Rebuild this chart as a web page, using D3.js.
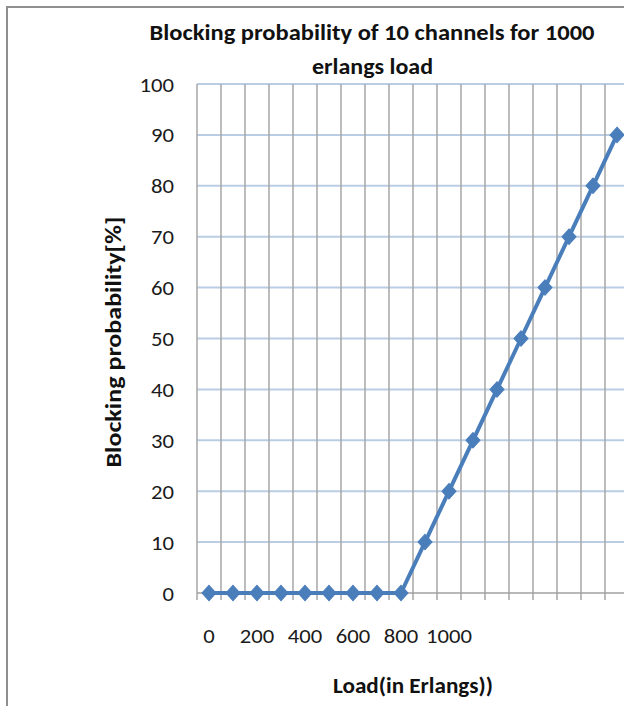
<!DOCTYPE html>
<html><head><meta charset="utf-8">
<script src="https://cdn.jsdelivr.net/npm/d3@7"></script>
<style>body{margin:0;background:#fff}svg{display:block}text{font-family:Carlito,Lato,"Open Sans",sans-serif}</style>
</head><body><svg id="c" width="624" height="706"></svg>
<script>
const categories = [0,100,200,300,400,500,600,700,800,900,1000,1100,1200,1300,1400,1500,1600,1700];
const tickLabels = ["0","","200","","400","","600","","800","","1000","","","","","","",""];
const blocking = [0,0,0,0,0,0,0,0,0,10,20,30,40,50,60,70,80,90];
const yTicks = [0,10,20,30,40,50,60,70,80,90,100];

(function(){
const svg = d3.select("#c");
svg.append("rect").attr("x",7).attr("y",7).attr("width",640).attr("height",720)
  .attr("fill","#fff").attr("stroke","#8f8f8f").attr("stroke-width",2);

const pLeft=197, pTop=84, pBottom=593;
const bw = 24;
const x = d3.scaleBand().domain(categories).range([pLeft, pLeft+bw*categories.length]).padding(0);
const y = d3.scaleLinear().domain([0,100]).range([pBottom, pTop]);

// horizontal gridlines
svg.append("g").selectAll("line").data(yTicks.filter(d=>d>0)).join("line")
  .attr("x1",pLeft).attr("x2",pLeft+bw*categories.length)
  .attr("y1",d=>y(d)).attr("y2",d=>y(d))
  .attr("stroke","#b9cde5").attr("stroke-width",2);
// vertical gridlines at category boundaries (incl. ticks below axis)
const bounds = categories.map(c=>x(c));
svg.append("g").selectAll("line").data(bounds).join("line")
  .attr("x1",d=>d).attr("x2",d=>d)
  .attr("y1",pTop).attr("y2",pBottom+7)
  .attr("stroke","#a6a6a6").attr("stroke-width",1.5);
// x axis line
svg.append("line").attr("x1",pLeft).attr("x2",pLeft+bw*categories.length)
  .attr("y1",pBottom).attr("y2",pBottom).attr("stroke","#a0a0a0").attr("stroke-width",1.5);

const digitW = 11.5;
// y tick labels
svg.append("g").selectAll("text").data(yTicks).join("text")
  .attr("x",174).attr("y",d=>y(d)+7.5)
  .attr("text-anchor","end").attr("font-size",21).attr("fill","#1a1a1a")
  .attr("textLength",d=>String(d).length*digitW).attr("lengthAdjust","spacingAndGlyphs")
  .text(d=>d);
// x tick labels
svg.append("g").selectAll("text").data(categories.filter((c,i)=>tickLabels[i]!=="")).join("text")
  .attr("x",d=>x(d)+x.bandwidth()/2).attr("y",643)
  .attr("text-anchor","middle").attr("font-size",21).attr("fill","#1a1a1a")
  .attr("textLength",d=>tickLabels[categories.indexOf(d)].length*digitW).attr("lengthAdjust","spacingAndGlyphs")
  .text(d=>tickLabels[categories.indexOf(d)]);

// line
const line = d3.line().x((d,i)=>x(categories[i])+x.bandwidth()/2).y(d=>y(d));
svg.append("path").datum(blocking).attr("d",line).attr("fill","none")
  .attr("stroke","#4a7ebb").attr("stroke-width",4).attr("stroke-linejoin","round");
// diamond markers
const sym = d3.symbol().type(d3.symbolDiamond2).size(125);
svg.append("g").selectAll("path").data(blocking).join("path")
  .attr("transform",(d,i)=>`translate(${x(categories[i])+x.bandwidth()/2},${y(d)}) scale(1,1.1)`)
  .attr("d",sym).attr("fill","#4a7ebb").attr("stroke","#4a7ebb").attr("stroke-width",1);

// titles
function t(txt, xx, yy, len, size){
  return svg.append("text").attr("x",xx).attr("y",yy).attr("text-anchor","middle")
    .attr("font-size",size).attr("font-weight","bold").attr("fill","#111")
    .attr("textLength",len).attr("lengthAdjust","spacingAndGlyphs").text(txt);
}
t("Blocking probability of 10 channels for 1000", 372, 40, 445, 22);
t("erlangs load", 372.5, 74, 121, 22);
t("Load(in Erlangs))", 413, 693, 160, 22);
svg.append("text").attr("transform","translate(121,342) rotate(-90)").attr("text-anchor","middle")
  .attr("font-size",23).attr("font-weight","bold").attr("fill","#111")
  .attr("textLength",251).attr("lengthAdjust","spacingAndGlyphs")
  .text("Blocking probability[%]");
})();
</script></body></html>
